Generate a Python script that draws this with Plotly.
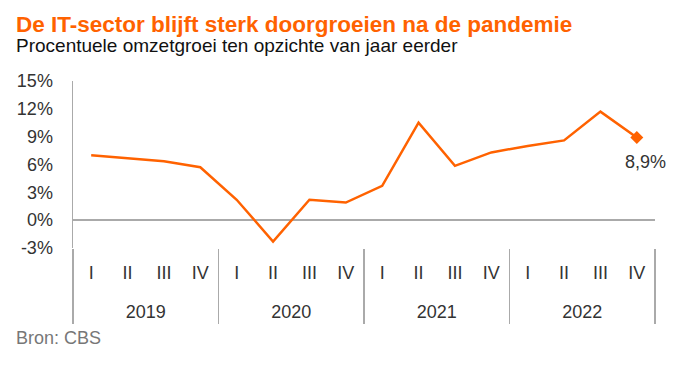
import plotly.graph_objects as go

years = ["2019"] * 4 + ["2020"] * 4 + ["2021"] * 4 + ["2022"] * 4
quarters = ["I", "II", "III", "IV"] * 4
growth = [7.0, 6.7, 6.35, 5.7, 2.2, -2.3, 2.2, 1.9, 3.7, 10.5, 5.85, 7.3, 8.0, 8.6, 11.7, 8.9]
y_ticks = [-3, 0, 3, 6, 9, 12, 15]

ORANGE = "#FF6200"
GREY = "#AAAAAA"
FONT = "Liberation Sans, Arial, Helvetica, sans-serif"

idx = list(range(len(growth)))
year_names = list(dict.fromkeys(years))
year_pos = [sum(i for i in idx if years[i] == yv) / years.count(yv) for yv in year_names]
year_bounds = [min(i for i in idx if years[i] == yv) - 0.5 for yv in year_names] + [idx[-1] + 0.5]

fig = go.Figure()
fig.add_trace(go.Scatter(
    x=idx, y=growth, mode="lines", xaxis="x", yaxis="y",
    line=dict(color=ORANGE, width=2.5), hoverinfo="skip", showlegend=False,
))
fig.add_trace(go.Scatter(
    x=[idx[-1]], y=[growth[-1]], mode="markers", xaxis="x2", yaxis="y",
    marker=dict(symbol="diamond", size=10, color=ORANGE), hoverinfo="skip",
    showlegend=False,
))
fig.add_annotation(
    x=idx[-1], y=growth[-1], xref="x", yref="y",
    text=f"{growth[-1]:.1f}%".replace(".", ","), showarrow=False,
    yshift=-24, xshift=9, font=dict(size=18, color="#333333", family=FONT),
)

fig.update_layout(
    width=690, height=366,
    margin=dict(l=73, r=35, t=81, b=118, autoexpand=False),
    plot_bgcolor="white", paper_bgcolor="white",
    font=dict(family=FONT, color="#333333", size=18),
    separators=",.",
    showlegend=False,
    hovermode=False,
    xaxis=dict(
        range=[-0.5, idx[-1] + 0.5], tickmode="array", tickvals=idx, ticktext=quarters,
        showgrid=False, showline=False, zeroline=False, ticks="",
        tickfont=dict(size=18, color="#333333"), ticklabelstandoff=12,
        automargin=False,
    ),
    xaxis2=dict(
        overlaying="x", matches="x", anchor="y", side="bottom",
        tickmode="array", tickvals=year_pos, ticktext=year_names,
        showgrid=False, showline=False, zeroline=False, ticks="",
        tickfont=dict(size=18, color="#333333"), ticklabelstandoff=51,
        minor=dict(tickmode="array", tickvals=year_bounds, ticks="outside",
                   ticklen=75, tickwidth=1.5, tickcolor=GREY, showgrid=False),
        automargin=False,
    ),
    yaxis=dict(
        range=[-3, 15], tickmode="array", tickvals=y_ticks,
        ticktext=[f"{v}%" for v in y_ticks], showgrid=False,
        zeroline=True, zerolinecolor=GREY, zerolinewidth=2,
        showline=True, linecolor=GREY, linewidth=1.5, ticks="",
        tickfont=dict(size=18, color="#333333"), ticklabelstandoff=15,
        automargin=False,
    ),
)

fig.add_annotation(
    text="<b>De IT-sector blijft sterk doorgroeien na de pandemie</b>",
    xref="paper", yref="paper", x=0, y=1, xanchor="left", yanchor="top",
    xshift=-59, yshift=71, showarrow=False,
    font=dict(size=22.5, color=ORANGE, family=FONT), align="left",
)
fig.add_annotation(
    text="Procentuele omzetgroei ten opzichte van jaar eerder",
    xref="paper", yref="paper", x=0, y=1, xanchor="left", yanchor="top",
    xshift=-59, yshift=48, showarrow=False,
    font=dict(size=19, color="#111111", family=FONT), align="left",
)
fig.add_annotation(
    text="Bron: CBS",
    xref="paper", yref="paper", x=0, y=0, xanchor="left", yanchor="middle",
    xshift=-59, yshift=-90, showarrow=False,
    font=dict(size=18, color="#777777", family=FONT), align="left",
)

fig.write_html(
    "out.html",
    config={"displayModeBar": False, "staticPlot": True},
    post_script="document.body.style.margin='0';",
)
